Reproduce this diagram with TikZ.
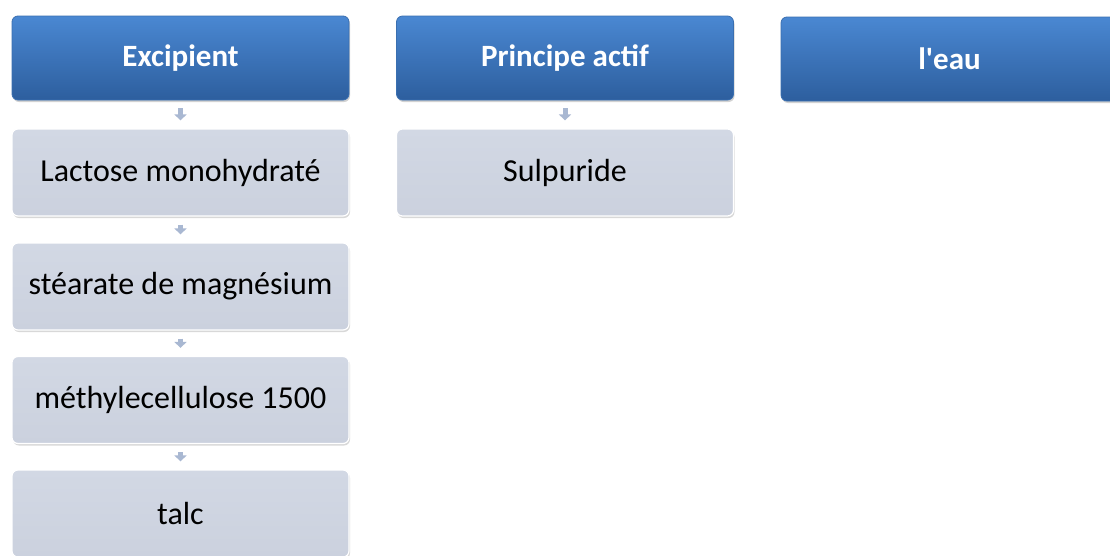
\documentclass[tikz,border=0pt]{standalone}
\usepackage{fontspec}
\setmainfont{Carlito}
\usetikzlibrary{shadows,arrows.meta}
\definecolor{hdtop}{HTML}{4A88D2}
\definecolor{hdbot}{HTML}{2D5E9E}
\definecolor{hdline}{HTML}{3A6FB0}
\definecolor{chfill}{HTML}{CBD1DE}
\definecolor{chtop}{HTML}{D2D8E4}
\definecolor{arrcol}{HTML}{A9B8D2}
\tikzset{
  header/.style={rounded corners=6pt, minimum width=337pt, minimum height=84pt,
    top color=hdtop, bottom color=hdbot, draw=hdline, line width=0.8pt,
    drop shadow={opacity=0.35, shadow xshift=1pt, shadow yshift=-2pt},
    text=white, font=\fontsize{31}{36}\selectfont\bfseries},
  child/.style={rounded corners=6pt, minimum width=337pt, minimum height=87pt,
    top color=chtop, bottom color=chfill, draw=white, line width=1.2pt,
    drop shadow={opacity=0.3, shadow xshift=1pt, shadow yshift=-2pt},
    text=black, font=\fontsize{32}{37}\selectfont},
  arr/.style={arrcol, line width=5pt, -{Triangle[width=12pt,length=6pt]},
    shorten <=8pt, shorten >=8pt}
}
\begin{document}
\begin{tikzpicture}[x=1pt,y=-1pt]
\useasboundingbox (0,0) rectangle (1110,555);
\fill[white] (0,0) rectangle (1110,555);
\node[header] (h1) at (180.5,58) {Excipient};
\node[header] (h2) at (565,58) {Principe actif};
\node[header] (h3) at (949.5,59) {l\textquotesingle eau};
\node[child] (c1) at (180.5,172.5) {Lactose monohydraté};
\node[child] (c2) at (180.5,286.5) {stéarate de magnésium};
\node[child] (c3) at (180.5,400) {méthylecellulose 1500};
\node[child] (c4) at (180.5,513.5) {talc};
\node[child] (s1) at (565,172.5) {Sulpuride};
\draw[arr] (h1) -- (c1);
\draw[arr] (c1) -- (c2);
\draw[arr] (c2) -- (c3);
\draw[arr] (c3) -- (c4);
\draw[arr] (h2) -- (s1);
\end{tikzpicture}
\end{document}
